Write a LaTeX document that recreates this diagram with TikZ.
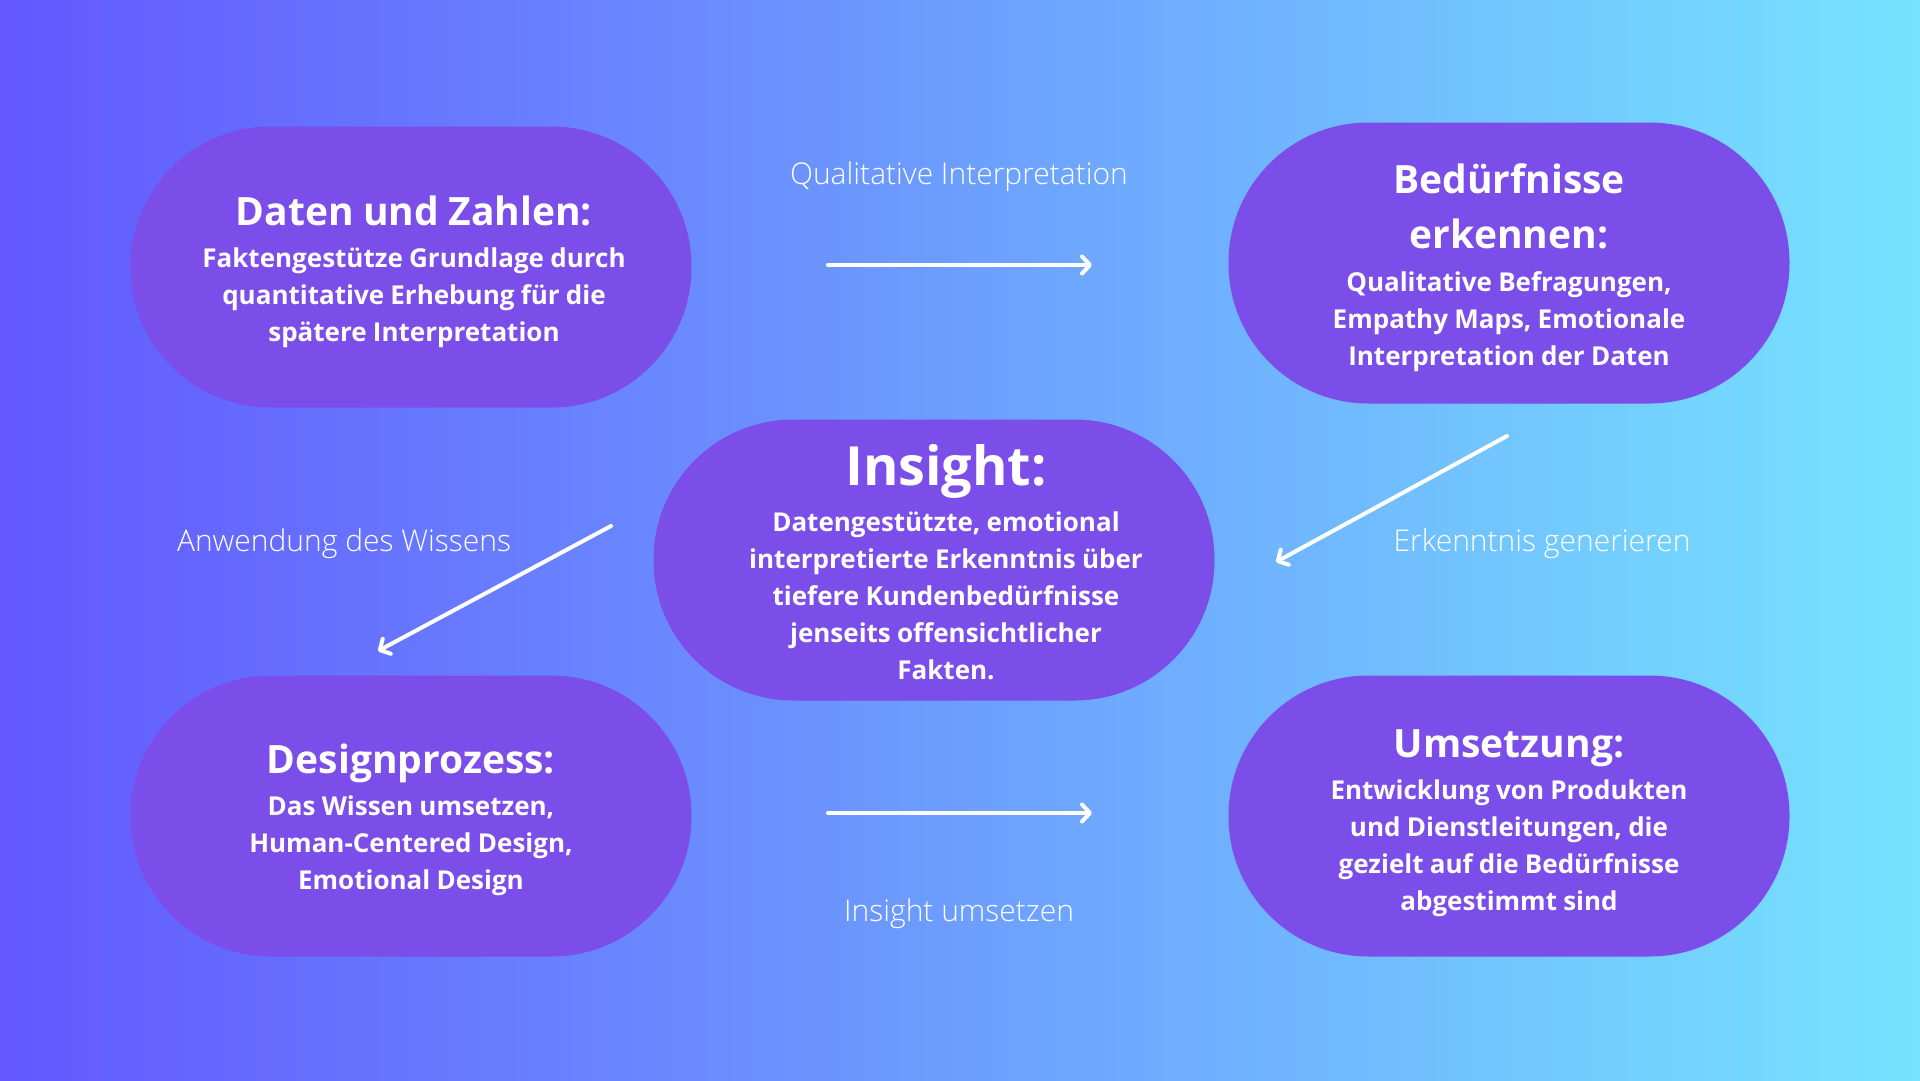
\documentclass[tikz,border=0pt]{standalone}
\usepackage{fontspec}
\setmainfont{Open Sans}
\newfontfamily\lightfont{Open Sans Light}
\usetikzlibrary{arrows.meta}
\definecolor{bgL}{RGB}{99,88,254}
\definecolor{bgR}{RGB}{118,228,254}
\definecolor{pillc}{RGB}{123,77,233}
\tikzset{
  pill/.style={fill=pillc, draw=none, minimum width=561bp, minimum height=281bp,
    rounded corners=140bp, inner sep=0pt},
  ptext/.style={text=white, text width=540bp, inner sep=0pt},
  lbl/.style={text=white, font=\lightfont\fontsize{30bp}{33bp}\selectfont, inner sep=0pt},
  arr/.style={white, line width=4bp, line cap=round, -{Straight Barb[length=8bp,width=17bp,round]}}
}
\newcommand{\ttlfont}{\fontsize{39bp}{55bp}\selectfont\bfseries\spaceskip=0.24em\xspaceskip=0.24em\relax}
\newcommand{\bodyfont}{\fontsize{26bp}{37bp}\selectfont\bfseries\spaceskip=0.24em\xspaceskip=0.24em\relax}
\begin{document}
\begin{tikzpicture}[x=1bp,y=-1bp]
\useasboundingbox (0,0) rectangle (1920,1080);
\shade[left color=bgL, right color=bgR] (0,0) rectangle (1920,1080);

\node[pill] (daten) at (411,267) {};
\node[pill] (bed) at (1509,263) {};
\node[pill] (ins) at (934,560) {};
\node[pill] (des) at (411,816) {};
\node[pill] (ums) at (1509,816) {};

\node[ptext] (tdaten) at ([xshift=3bp,yshift=-5bp]daten.center) {\centering\ttlfont Daten und Zahlen:\par\vspace{5bp}
  \bodyfont Faktengestütze Grundlage durch\\ quantitative Erhebung für die\\ spätere Interpretation\par};
\node[ptext] (tbed) at ([yshift=-5bp]bed.center) {\centering\ttlfont Bedürfnisse\\ erkennen:\par\vspace{6bp}
  \bodyfont Qualitative Befragungen,\\ Empathy Maps, Emotionale\\ Interpretation der Daten\par};
\node[ptext] (tins) at ([xshift=12bp,yshift=-2bp]ins.center) {\centering\fontsize{54bp}{60bp}\selectfont\bfseries Insight:\par\vspace{9bp}
  \bodyfont Datengestützte, emotional\\ interpretierte Erkenntnis über\\ tiefere Kundenbedürfnisse\\ jenseits offensichtlicher\\ Fakten.\par};
\node[ptext] (tdes) at ([yshift=-4bp]des.center) {\centering\ttlfont Designprozess:\par\vspace{5bp}
  \bodyfont Das Wissen umsetzen,\\ Human-Centered Design,\\ Emotional Design\par};
\node[ptext] (tums) at ([yshift=-7bp]ums.center) {\centering\ttlfont Umsetzung:\par\vspace{5bp}
  \bodyfont Entwicklung von Produkten\\ und Dienstleitungen, die\\ gezielt auf die Bedürfnisse\\ abgestimmt sind\par};

\node[lbl] (l1) at (959,177) {Qualitative Interpretation};
\node[lbl] (l2) at (344,544) {Anwendung des Wissens};
\node[lbl] (l3) at (1542,544) {Erkenntnis generieren};
\node[lbl] (l4) at (959,914) {Insight umsetzen};

\coordinate (a1s) at (828,265); \coordinate (a1e) at (1092,265);
\coordinate (a2s) at (1507,436); \coordinate (a2e) at (1276,562);
\coordinate (a3s) at (611,526); \coordinate (a3e) at (378,651);
\coordinate (a4s) at (828,813); \coordinate (a4e) at (1092,813);
\draw[arr] (a1s) -- (a1e);
\draw[arr] (a2s) -- (a2e);
\draw[arr] (a3s) -- (a3e);
\draw[arr] (a4s) -- (a4e);
\end{tikzpicture}
\end{document}
